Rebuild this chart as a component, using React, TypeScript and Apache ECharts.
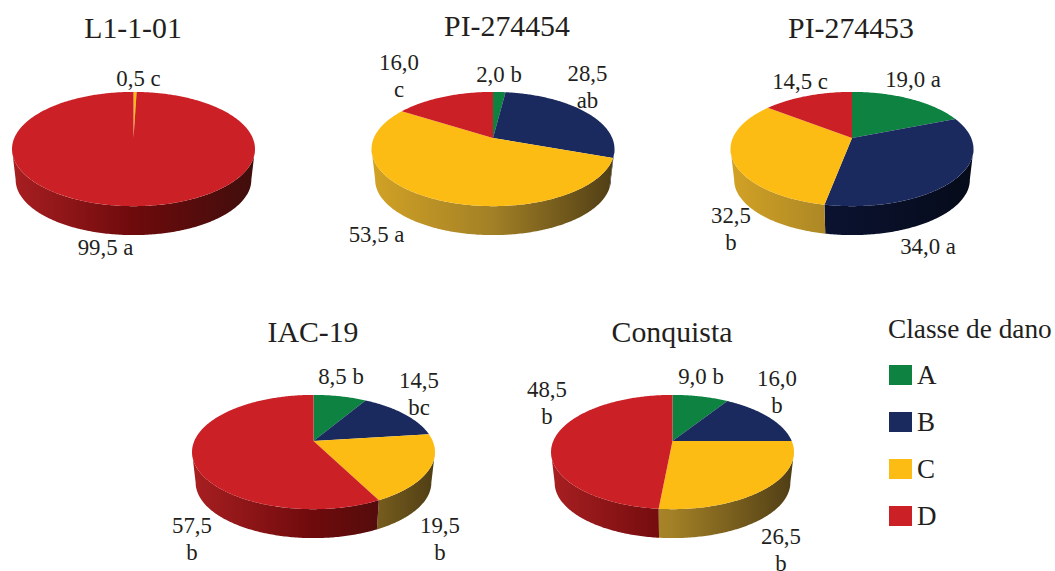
import React, { useEffect, useRef } from "react";
import * as echarts from "echarts";

// Damage class shares per cultivar, in the order of `cultivars`.
const cultivars = ["L1-1-01", "PI-274454", "PI-274453", "IAC-19", "Conquista"];
const classNames = ["A", "B", "C", "D"];
const classA = [0, 2.0, 19.0, 8.5, 9.0];
const classB = [0, 28.5, 34.0, 14.5, 16.0];
const classC = [0.5, 53.5, 32.5, 19.5, 26.5];
const classD = [99.5, 16.0, 14.5, 57.5, 48.5];
const shares = [classA, classB, classC, classD];

// Significance letters; a leading newline puts the letter on its own line.
const gradesA = ["", " b", " a", " b", " b"];
const gradesB = ["", "\nab", " a", "\nbc", "\nb"];
const gradesC = [" c", " a", "\nb", "\nb", "\nb"];
const gradesD = [" a", "\nc", " c", "\nb", "\nb"];
const grades = [gradesA, gradesB, gradesC, gradesD];

// Pie layout: horizontal centre and the y of the slice apex.
const pieCentres = [
  [133.5, 138],
  [493, 138],
  [852, 138],
  [313.5, 441],
  [672.5, 441],
];
const titlePos = [
  [133, 12.5],
  [507, 10.5],
  [851, 12.5],
  [313, 316.5],
  [672, 316.5],
];
const labelPos = [
  [[0, 0], [499, 74], [913, 79], [341, 376], [701, 376]],
  [[0, 0], [587.5, 87], [928, 246], [419, 393.5], [777, 391.5]],
  [[138.5, 78], [376.5, 234], [731, 229], [440, 539], [781, 549.5]],
  [[105.5, 247], [399, 75.5], [800, 81], [192, 539], [547, 403]],
];

const faceColors = ["#0d8241", "#1b2a5e", "#fcbc14", "#cc2027"];
const wallColors = [
  ["#0d6a35", "#0a5029", "#06361c"],
  ["#0f1a44", "#0a112c", "#060b1a"],
  ["#d2a225", "#a28026", "#4f3d15"],
  ["#a81f21", "#6e0a0c", "#3f0e0c"],
];

const SERIF = "Liberation Serif";
const INK = "#231f20";

// Perspective of the tilted disc: the rear of the rim is compressed, the front stretched.
const RADIUS = 119.2;
const TILT_H = 55;
const PERSPECTIVE = 0.193;
const DEPTH = 31;
const BASE_SCALE = 0.97;
const HORIZON = Math.acos(-PERSPECTIVE);

function rim(cx: number, ay: number, theta: number, scale = 1, drop = 0) {
  const s = 1 / (1 + PERSPECTIVE * Math.cos(theta));
  return [
    cx + RADIUS * scale * Math.sin(theta) * s,
    ay + drop - TILT_H * scale * Math.cos(theta) * s,
  ];
}

function sweep(from: number, to: number) {
  const steps = Math.max(2, Math.ceil(((to - from) * 180) / Math.PI / 0.75));
  return Array.from({ length: steps + 1 }, (_, i) => from + ((to - from) * i) / steps);
}

function makeSlice(classIndex: number) {
  return (params: any, api: any) => {
    const pie = params.dataIndex;
    const value = api.value(0) as number;
    if (!value) return null;
    const [cx, ay] = pieCentres[pie];
    const before = shares.slice(0, classIndex).reduce((sum, col) => sum + col[pie], 0);
    const a0 = (before / 100) * 2 * Math.PI;
    const a1 = ((before + value) / 100) * 2 * Math.PI;
    const children: any[] = [];

    // Side wall: only the part of the rim that faces the viewer.
    const w0 = Math.max(a0, HORIZON);
    const w1 = Math.min(a1, 2 * Math.PI - HORIZON);
    if (w1 > w0) {
      const angles = sweep(w0, w1);
      const upper = angles.map((t) => rim(cx, ay, t));
      const lower = angles.map((t) => rim(cx, ay, t, BASE_SCALE, DEPTH)).reverse();
      const [c0, c1, c2] = wallColors[classIndex];
      const fill = new echarts.graphic.LinearGradient(
        cx - RADIUS * 1.02,
        0,
        cx + RADIUS * 1.02,
        0,
        [
          { offset: 0, color: c0 },
          { offset: 0.5, color: c1 },
          { offset: 1, color: c2 },
        ],
        true
      );
      children.push({
        type: "polygon",
        z2: 1,
        shape: { points: upper.concat(lower) },
        style: { fill },
      });
    }

    // Top face of the slice.
    const face = [[cx, ay]].concat(sweep(a0, a1).map((t) => rim(cx, ay, t)));
    children.push({
      type: "polygon",
      z2: 2,
      shape: { points: face },
      style: { fill: faceColors[classIndex] },
    });

    // Value label, decimal comma as printed.
    const [lx, ly] = labelPos[classIndex][pie];
    children.push({
      type: "text",
      z2: 3,
      x: lx,
      y: ly,
      style: {
        text: value.toFixed(1).replace(".", ",") + grades[classIndex][pie],
        fill: INK,
        font: `22.8px "${SERIF}"`,
        align: "center",
        verticalAlign: "middle",
        lineHeight: 27,
      },
    });
    return { type: "group", children };
  };
}

export default function App() {
  const ref = useRef<HTMLDivElement>(null);

  useEffect(() => {
    const chart = echarts.init(ref.current!, undefined, { renderer: "svg" });
    chart.setOption({
      animation: false,
      backgroundColor: "#ffffff",
      title: [
        ...cultivars.map((text, i) => ({
          text,
          left: titlePos[i][0],
          top: titlePos[i][1],
          textAlign: "center",
          padding: 0,
          textStyle: { fontFamily: SERIF, fontSize: 29.8, fontWeight: "normal", color: INK },
        })),
        {
          text: "Classe de dano",
          left: 888,
          top: 315,
          padding: 0,
          textStyle: { fontFamily: SERIF, fontSize: 27.3, fontWeight: "normal", color: INK },
        },
      ],
      legend: {
        orient: "vertical",
        left: 889,
        top: 361.5,
        padding: 0,
        icon: "rect",
        itemWidth: 23,
        itemHeight: 20,
        itemGap: 20,
        selectedMode: false,
        textStyle: { fontFamily: SERIF, fontSize: 27, color: INK, padding: [0, 0, 0, 0] },
        data: classNames,
      },
      series: classNames.map((name, i) => ({
        type: "custom",
        name,
        coordinateSystem: "none",
        silent: true,
        clip: false,
        itemStyle: { color: faceColors[i] },
        renderItem: makeSlice(i),
        data: shares[i],
      })),
    });
    return () => chart.dispose();
  }, []);

  return (
    <div
      ref={ref}
      style={{ position: "absolute", left: 0, top: 0, width: 1055, height: 571 }}
    />
  );
}
